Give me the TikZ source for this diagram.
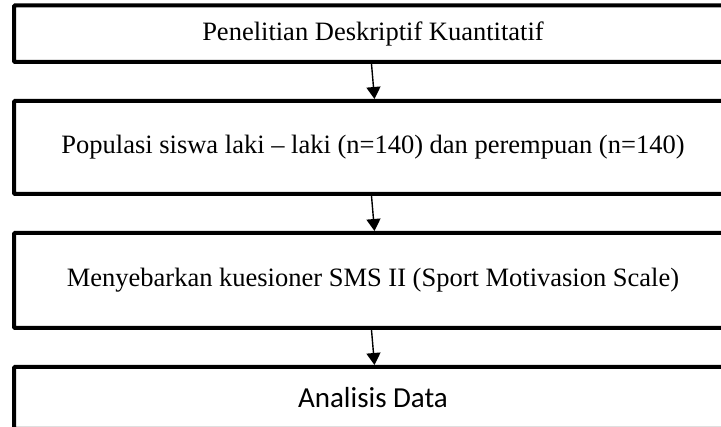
\documentclass[tikz,border=0pt]{standalone}
\usepackage{fontspec}
\setmainfont{Liberation Serif}
\newfontfamily\calibri{Carlito}
\usetikzlibrary{arrows.meta,positioning}

\begin{document}
\begin{tikzpicture}[x=1pt,y=1pt,->,>={Triangle[width=14pt,length=12pt]},line width=1.4pt,node distance=35pt]
   \tikzstyle{every node}=[draw,line width=4pt,minimum width=718pt,rounded corners=1pt,font=\fontsize{26.5}{30}\selectfont]
   \useasboundingbox (0,0) rectangle (721,-427);
   \clip (0,0) rectangle (721,-427);
   \node[minimum height=56.5pt] (metode) at (373,-33.75) {Penelitian Deskriptif Kuantitatif};
   \node[minimum height=93pt] (populasi) [below=of metode] {Populasi siswa laki -- laki (n=140) dan perempuan (n=140)};
   \node[minimum height=95pt] (kuesioner) [below=of populasi] {Menyebarkan kuesioner SMS II (Sport Motivasion Scale)};
   \node[minimum height=62pt,font=\calibri\fontsize{29}{33}\selectfont] (analisis) [below=of kuesioner] {Analisis Data};

   \path
     ([xshift=-1.5pt]metode.south)  edge  ([xshift=1.5pt]populasi.north)
     ([xshift=-1.5pt]populasi.south)  edge  ([xshift=1.5pt]kuesioner.north)
     ([xshift=-1.5pt]kuesioner.south)  edge  ([xshift=1.5pt]analisis.north);
\end{tikzpicture}
\end{document}
